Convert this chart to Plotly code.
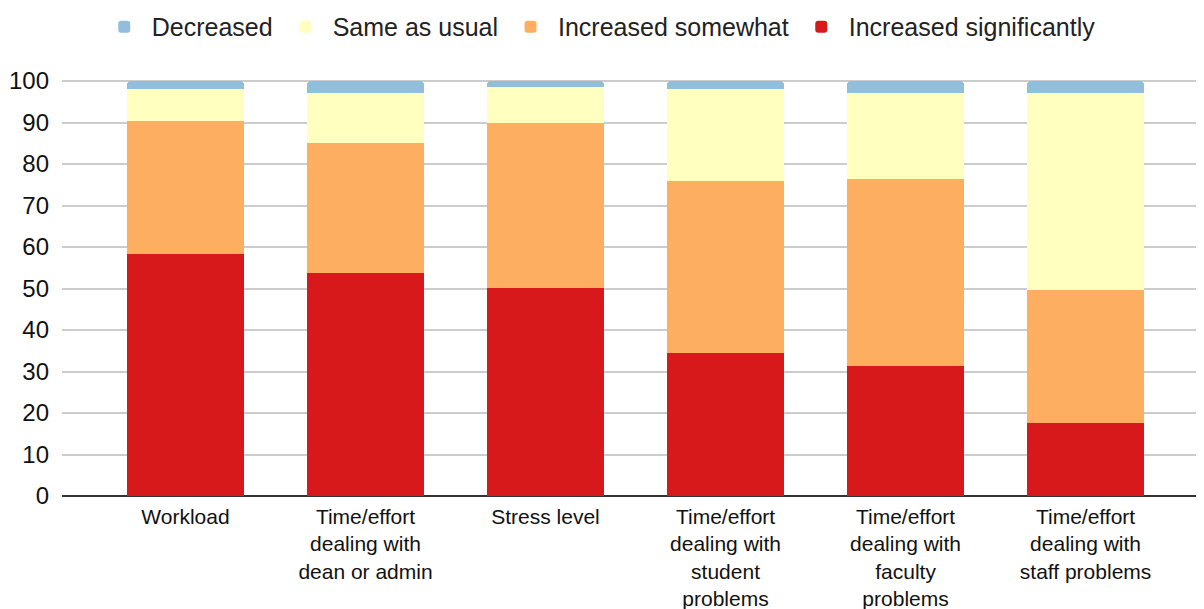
import plotly.graph_objects as go

categories = [
    "Workload",
    "Time/effort<br>dealing with<br>dean or admin",
    "Stress level",
    "Time/effort<br>dealing with<br>student<br>problems",
    "Time/effort<br>dealing with<br>faculty<br>problems",
    "Time/effort<br>dealing with<br>staff problems",
]
increased_significantly = [58.3, 53.8, 50.2, 34.4, 31.3, 17.6]
increased_somewhat = [32.1, 31.2, 39.8, 41.5, 45.0, 32.1]
same_as_usual = [7.8, 12.1, 8.6, 22.3, 20.8, 47.4]
decreased = [1.8, 2.9, 1.4, 1.8, 2.9, 2.9]
y_ticks = [0, 10, 20, 30, 40, 50, 60, 70, 80, 90, 100]

series = [
    ("Increased significantly", increased_significantly, "#d7191c"),
    ("Increased somewhat", increased_somewhat, "#fdae61"),
    ("Same as usual", same_as_usual, "#ffffbf"),
    ("Decreased", decreased, "#91bfdb"),
]

x_idx = list(range(len(categories)))
fig = go.Figure()
for name, vals, color in series:
    fig.add_trace(go.Bar(
        x=x_idx, y=vals, name=name,
        marker=dict(color=color, line=dict(width=0)),
        width=0.65,
    ))

font = "Liberation Sans, Arial, sans-serif"
fig.update_layout(
    barmode="stack",
    barcornerradius=4,
    width=1196, height=601,
    margin=dict(l=54, r=0, t=71, b=113, autoexpand=False),
    plot_bgcolor="white", paper_bgcolor="white",
    font=dict(family=font, size=21, color="#111111"),
    legend=dict(
        orientation="h", traceorder="reversed",
        x=0.47, xanchor="center", y=1.125, yanchor="middle",
        font=dict(size=25, color="#222222"),
        itemwidth=45,
    ),
    xaxis=dict(
        range=[-0.686, 5.658],
        tickmode="array", tickvals=x_idx, ticktext=categories,
        showgrid=False, showline=False, zeroline=False,
        tickfont=dict(size=21, color="#111111"),
        ticks="", ticklabelstandoff=6,
    ),
    yaxis=dict(
        range=[0, 100.5],
        tickmode="array", tickvals=y_ticks,
        showgrid=True, gridcolor="#cccccc", gridwidth=2,
        zeroline=True, zerolinecolor="#333333", zerolinewidth=2,
        tickfont=dict(size=24, color="#111111"),
        showline=False, ticklabelstandoff=12,
    ),
)

fig.write_html("out.html")
